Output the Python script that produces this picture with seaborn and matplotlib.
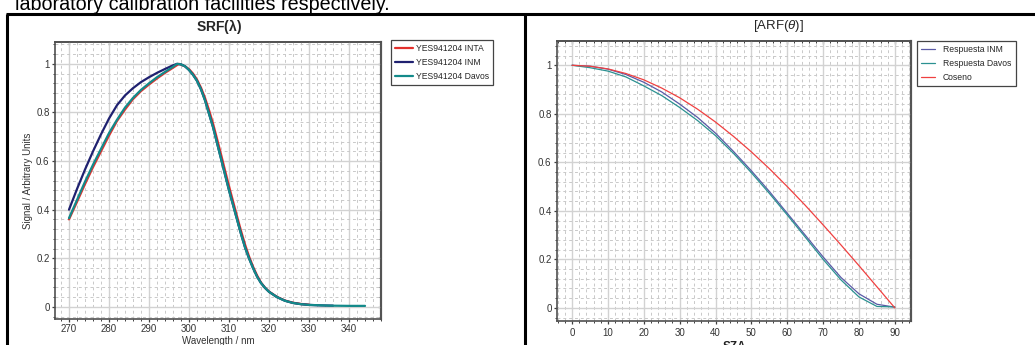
import numpy as np
import pandas as pd
import seaborn as sns
import matplotlib
matplotlib.use("Agg")
import matplotlib.pyplot as plt
from matplotlib.ticker import MultipleLocator, FuncFormatter
from matplotlib.lines import Line2D

# ---------------- spectral response (left panel) ----------------
wl_inta = [270, 272, 274, 276, 278, 280, 282, 284, 286, 288, 290, 292, 294, 296, 297.5,
           299, 300, 301, 302, 303, 304, 305, 306, 307, 308, 309, 310, 311, 312, 313,
           314, 315, 316, 317, 318, 319, 320, 322, 324, 326, 328, 330]
srf_inta = [0.36, 0.432, 0.505, 0.575, 0.64, 0.705, 0.765, 0.812, 0.855, 0.888, 0.915,
            0.94, 0.963, 0.984, 1.0, 0.99, 0.978, 0.96, 0.935, 0.902, 0.86, 0.81, 0.755,
            0.692, 0.628, 0.562, 0.497, 0.435, 0.373, 0.313, 0.257, 0.208, 0.166, 0.13,
            0.1, 0.079, 0.063, 0.041, 0.026, 0.017, 0.012, 0.009]

wl_inm = [270, 272, 274, 276, 278, 280, 282, 284, 286, 288, 290, 292, 294, 296, 297,
          298, 299, 300, 301, 302, 303, 304, 305, 306, 307, 308, 309, 310, 311, 312,
          313, 314, 315, 316, 317, 318, 319, 320, 322, 324, 326, 328, 330, 333, 336]
srf_inm = [0.40, 0.485, 0.565, 0.64, 0.71, 0.775, 0.83, 0.87, 0.9, 0.925, 0.945, 0.963,
           0.979, 0.994, 1.0, 0.998, 0.99, 0.975, 0.955, 0.93, 0.895, 0.85, 0.795, 0.74,
           0.675, 0.61, 0.545, 0.48, 0.42, 0.36, 0.30, 0.245, 0.2, 0.16, 0.125, 0.098,
           0.078, 0.062, 0.04, 0.025, 0.016, 0.011, 0.008, 0.006, 0.005]

wl_davos = [270, 272, 274, 276, 278, 280, 282, 284, 286, 288, 290, 292, 294, 296, 297,
            298, 299, 300, 301, 302, 303, 304, 305, 306, 307, 308, 309, 310, 311, 312,
            313, 314, 315, 316, 317, 318, 319, 320, 322, 324, 326, 328, 330, 335, 340, 344]
srf_davos = [0.365, 0.44, 0.515, 0.585, 0.65, 0.715, 0.77, 0.82, 0.86, 0.893, 0.92,
             0.945, 0.967, 0.988, 1.0, 0.998, 0.99, 0.975, 0.955, 0.93, 0.895, 0.85,
             0.795, 0.74, 0.675, 0.61, 0.545, 0.48, 0.42, 0.36, 0.30, 0.245, 0.2, 0.16,
             0.125, 0.098, 0.078, 0.062, 0.04, 0.025, 0.016, 0.011, 0.008, 0.005, 0.004,
             0.004]

srf_labels = ["YES941204 INTA", "YES941204 INM", "YES941204 Davos"]
srf_colors = ["#e3302c", "#1f2170", "#138a8a"]

# ---------------- angular response (right panel) ----------------
sza = [0, 5, 10, 15, 20, 25, 30, 35, 40, 45, 50, 55, 60, 65, 70, 75, 80, 85, 90]
arf_inm = [1.0, 0.996, 0.984, 0.962, 0.93, 0.89, 0.84, 0.785, 0.72, 0.645, 0.565, 0.48,
           0.39, 0.30, 0.21, 0.125, 0.058, 0.015, 0.003]
arf_davos = [1.0, 0.99, 0.976, 0.952, 0.915, 0.875, 0.826, 0.772, 0.71, 0.637, 0.557,
             0.472, 0.383, 0.292, 0.2, 0.115, 0.045, 0.006, 0.004]
arf_cos = [1.0, 0.996, 0.985, 0.966, 0.94, 0.906, 0.866, 0.819, 0.766, 0.707, 0.643,
           0.574, 0.5, 0.423, 0.342, 0.259, 0.174, 0.087, 0.0]

arf_labels = ["Respuesta INM", "Respuesta Davos", "Coseno"]
arf_colors = ["#5a5aa6", "#2b9191", "#ef4040"]

sns.set_style("white")
plt.rcParams["font.family"] = ["Liberation Sans", "DejaVu Sans"]
plt.rcParams["mathtext.fontset"] = "custom"
plt.rcParams["mathtext.it"] = "Liberation Sans:italic"
plt.rcParams["mathtext.rm"] = "Liberation Sans"
plt.rcParams["mathtext.bf"] = "Liberation Sans:bold"

W, H = 1035, 345
fig = plt.figure(figsize=(W / 100, H / 100), dpi=100)
fig.patch.set_facecolor("white")


def fx(px):
    return px / W


def fy(py):
    return 1 - py / H


# text line running above the figure frame
fig.text(fx(15), fy(9.5), "laboratory calibration facilities respectively.",
         fontsize=14.2, color="black", va="baseline", ha="left")

# frame of the two-cell table
frame = dict(color="black", lw=2.2, transform=fig.transFigure, solid_capstyle="butt")
fig.add_artist(Line2D([fx(6), 1.0], [fy(13.5), fy(13.5)], **frame))
fig.add_artist(Line2D([fx(7), fx(7)], [fy(13.5), 0], **frame))
fig.add_artist(Line2D([fx(525), fx(525)], [fy(13.5), 0], **frame))

SPINE = "#505050"
TICK = "#404040"
LABEL = "#333333"


def style_axes(ax, xmajor, xminor, ymajor, yminor):
    ax.set_facecolor("white")
    ax.xaxis.set_major_locator(MultipleLocator(xmajor))
    ax.xaxis.set_minor_locator(MultipleLocator(xminor))
    ax.yaxis.set_major_locator(MultipleLocator(ymajor))
    ax.yaxis.set_minor_locator(MultipleLocator(yminor))
    ax.yaxis.set_major_formatter(FuncFormatter(lambda v, _: f"{v:g}"))
    ax.grid(which="major", color="#d2d2d2", lw=1.0, ls="-")
    ax.grid(which="minor", color="#c9c9c9", lw=0.7, ls=(0, (3, 3)))
    ax.set_axisbelow(True)
    for s in ax.spines.values():
        s.set_visible(True)
        s.set_color(SPINE)
        s.set_linewidth(1.2)
    # outward ticks on bottom / left
    ax.tick_params(which="both", direction="out", color=TICK, labelcolor=LABEL,
                   labelsize=7, top=False, right=False, bottom=True, left=True, pad=1.5)
    ax.tick_params(which="major", length=2.4, width=0.9)
    ax.tick_params(which="minor", length=1.5, width=0.7)
    # inward ticks on top / right
    top = ax.secondary_xaxis("top")
    top.xaxis.set_major_locator(MultipleLocator(xmajor))
    top.xaxis.set_minor_locator(MultipleLocator(xminor))
    top.tick_params(which="both", direction="in", color=TICK, labeltop=False)
    top.tick_params(which="major", length=2.4, width=0.9)
    top.tick_params(which="minor", length=1.5, width=0.7)
    top.spines["top"].set_color(SPINE)
    top.spines["top"].set_linewidth(1.2)
    right = ax.secondary_yaxis("right")
    right.yaxis.set_major_locator(MultipleLocator(ymajor))
    right.yaxis.set_minor_locator(MultipleLocator(yminor))
    right.tick_params(which="both", direction="in", color=TICK, labelright=False)
    right.tick_params(which="major", length=2.4, width=0.9)
    right.tick_params(which="minor", length=1.5, width=0.7)
    right.spines["right"].set_color("#6a6a6a")
    right.spines["right"].set_linewidth(1.6)


# ---------------- left panel ----------------
srf_df = pd.concat([
    pd.DataFrame({"wl": wl_inta, "signal": srf_inta, "sensor": srf_labels[0]}),
    pd.DataFrame({"wl": wl_inm, "signal": srf_inm, "sensor": srf_labels[1]}),
    pd.DataFrame({"wl": wl_davos, "signal": srf_davos, "sensor": srf_labels[2]}),
])

ax1 = fig.add_axes([fx(55), 1 - 319 / H, (381 - 55) / W, (319 - 42) / H])
sns.lineplot(data=srf_df, x="wl", y="signal", hue="sensor", palette=srf_colors,
             hue_order=srf_labels, lw=1.6, sort=False, ax=ax1, legend=True)
ax1.set_xlim(266.5, 348)
ax1.set_ylim(-0.05, 1.09)
style_axes(ax1, 10, 2, 0.2, 0.04)
ax1.set_xlabel("Wavelength / nm", fontsize=7, color=LABEL, labelpad=1.2)
ax1.set_ylabel("Signal / Arbitrary Units", fontsize=7, color=LABEL, labelpad=2)
h, l = ax1.get_legend_handles_labels()
leg1 = ax1.legend(h, l, loc="upper left", bbox_to_anchor=(fx(391), fy(40)),
                  bbox_transform=fig.transFigure, borderaxespad=0, fontsize=6.2,
                  frameon=True, fancybox=False, edgecolor="#444444", framealpha=1,
                  handlelength=2.0, handletextpad=0.4, borderpad=0.5, labelspacing=0.55)
leg1.get_frame().set_linewidth(0.9)
fig.text(fx(219), fy(26), r"SRF($\mathbf{\lambda}$)", fontsize=10, fontweight="bold",
         ha="center", va="center")

# ---------------- right panel ----------------
arf_df = pd.concat([
    pd.DataFrame({"sza": sza, "resp": arf_inm, "source": arf_labels[0]}),
    pd.DataFrame({"sza": sza, "resp": arf_davos, "source": arf_labels[1]}),
    pd.DataFrame({"sza": sza, "resp": arf_cos, "source": arf_labels[2]}),
])

ax2 = fig.add_axes([fx(557), 1 - 321 / H, (911 - 557) / W, (321 - 41) / H])
sns.lineplot(data=arf_df, x="sza", y="resp", hue="source", palette=arf_colors,
             hue_order=arf_labels, lw=0.9, sort=False, ax=ax2, legend=True)
ax2.set_xlim(-4.2, 94.5)
ax2.set_ylim(-0.054, 1.10)
style_axes(ax2, 10, 2, 0.2, 0.04)
ax2.tick_params(axis="x", pad=3)
ax2.set_xlabel("SZA", fontsize=8.5, fontweight="bold", color="#222222", labelpad=1.5)
ax2.set_ylabel("")
h, l = ax2.get_legend_handles_labels()
leg2 = ax2.legend(h, l, loc="upper left", bbox_to_anchor=(fx(917), fy(41)),
                  bbox_transform=fig.transFigure, borderaxespad=0, fontsize=6.2,
                  frameon=True, fancybox=False, edgecolor="#444444", framealpha=1,
                  handlelength=1.6, handletextpad=0.9, borderpad=0.5, labelspacing=0.55)
leg2.get_frame().set_linewidth(0.9)
fig.text(fx(778), fy(26), r"[ARF($\theta$)]", fontsize=9.5, ha="center", va="center")

fig.savefig("out.png", dpi=100, facecolor="white")
